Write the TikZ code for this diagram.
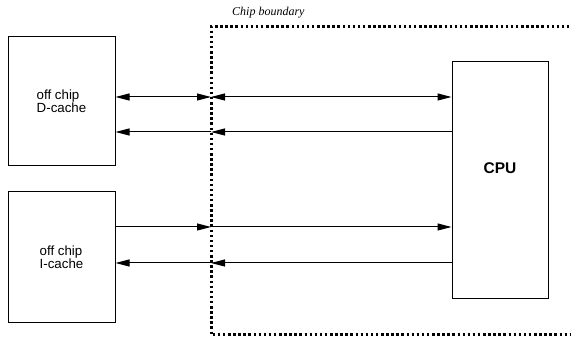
\documentclass[tikz,border=0pt]{standalone}
\usepackage{fontspec}
\setmainfont{Liberation Serif}
\newfontfamily\lbl{Liberation Sans}
\usetikzlibrary{arrows.meta}
\begin{document}
\begin{tikzpicture}[x=1pt,y=-1pt,
  box/.style={draw,line width=1pt,inner sep=0pt},
  tip/.tip={Triangle[length=14pt,width=7pt]},
  conn/.style={line width=1pt,-tip},
  bidir/.style={line width=1pt,tip-tip},
  bound/.style={line width=3pt,dash pattern=on 2.5pt off 2.6pt},
  lbltext/.style={font=\lbl\fontsize{13.3}{13}\selectfont,align=left}]
\useasboundingbox (0,0) rectangle (571,339);
% chip boundary
\draw[bound] (600,27) -- (211,27) -- (211,335) -- (600,335);
\node[anchor=base west,inner sep=0pt,font=\itshape\fontsize{12}{13}\selectfont] (cb) at (232,16) {Chip boundary};
% boxes
\node[box,minimum width=107pt,minimum height=129pt,lbltext] (dc) at (61.5,101.5) {off chip\\D-cache};
\node[box,minimum width=107pt,minimum height=131pt,lbltext] (ic) at (61.5,257.5) {off chip\\I-cache};
\node[box,minimum width=96pt,minimum height=237pt] (cpu) at (500,180.5) {};
\node[inner sep=0pt,font=\lbl\bfseries\fontsize{15.5}{17}\selectfont] (cput) at (500,168) {CPU};
% boundary crossing points
\coordinate (bD1) at (211,97);
\coordinate (bD2) at (211,132);
\coordinate (bI1) at (211,227);
\coordinate (bI2) at (211,263);
% connectors
\draw[bidir] (dc.east |- bD1) -- (bD1);
\draw[bidir] (bD1) -- (cpu.west |- bD1);
\draw[conn] (cpu.west |- bD2) -- (bD2);
\draw[conn] (bD2) -- (dc.east |- bD2);
\draw[conn] (ic.east |- bI1) -- (bI1);
\draw[conn] (bI1) -- (cpu.west |- bI1);
\draw[conn] (cpu.west |- bI2) -- (bI2);
\draw[conn] (bI2) -- (ic.east |- bI2);
\end{tikzpicture}
\end{document}
